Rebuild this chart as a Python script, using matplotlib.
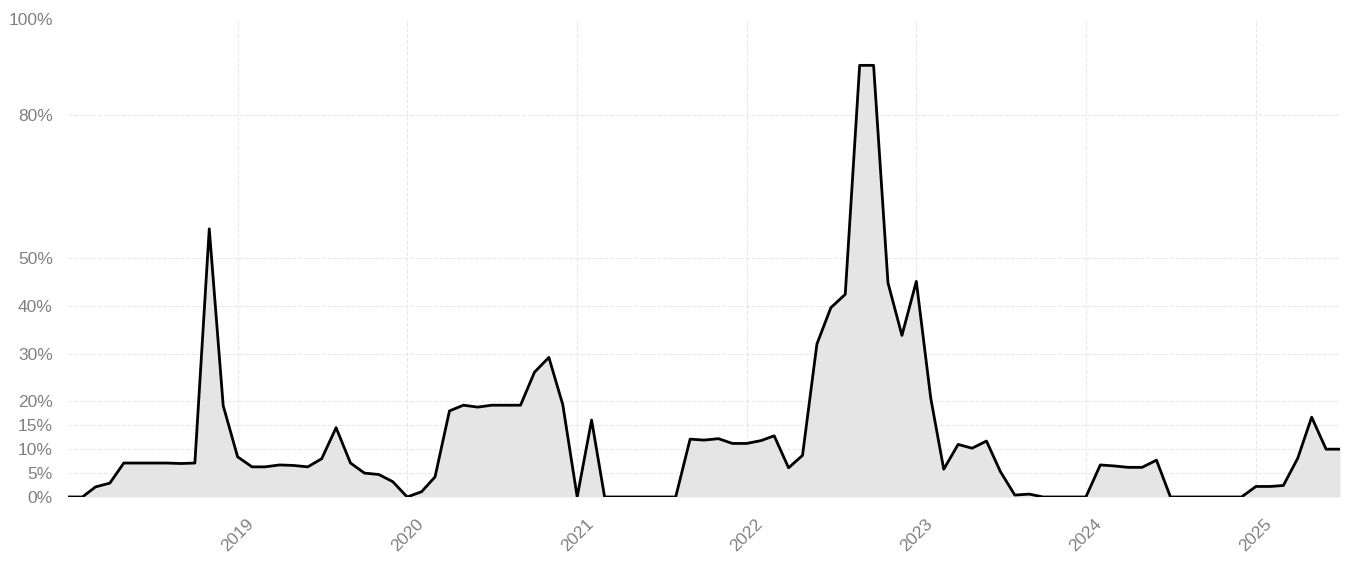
import pandas as pd
import numpy as np
import matplotlib.pyplot as plt
import matplotlib.dates as mdates

plt.rcParams['font.family'] = ['Liberation Sans', 'DejaVu Sans']

# Monthly values (%) from Jan 2018 to Jul 2025
values_2018 = [0, 0, 2.1, 2.9, 7.1, 7.1, 7.1, 7.1, 7.0, 7.1, 56.1, 19.1]
values_2019 = [8.4, 6.3, 6.3, 6.7, 6.6, 6.3, 8.0, 14.5, 7.1, 5.0, 4.7, 3.2]
values_2020 = [0, 1.1, 4.2, 18.0, 19.2, 18.8, 19.2, 19.2, 19.2, 26.1, 29.2, 19.3]
values_2021 = [0, 16.1, 0, 0, 0, 0, 0, 0, 12.1, 11.9, 12.2, 11.2]
values_2022 = [11.2, 11.8, 12.8, 6.1, 8.7, 32.0, 39.6, 42.4, 90.3, 90.3, 44.8, 33.8]
values_2023 = [45.1, 20.7, 5.8, 11.0, 10.2, 11.7, 5.3, 0.4, 0.6, 0, 0, 0]
values_2024 = [0, 6.7, 6.5, 6.2, 6.2, 7.7, 0, 0, 0, 0, 0, 0]
values_2025 = [2.2, 2.2, 2.4, 8.1, 16.7, 10.0, 10.0]

values = (values_2018 + values_2019 + values_2020 + values_2021 + values_2022
          + values_2023 + values_2024 + values_2025)
dates = pd.date_range("2018-01-01", periods=len(values), freq="MS")

y_ticks = [0, 5, 10, 15, 20, 30, 40, 50, 80, 100]
y_tick_labels = [f"{t}%" for t in y_ticks]
year_ticks = pd.date_range("2019-01-01", "2025-01-01", freq="YS")

fig = plt.figure(figsize=(13.5, 5.67), dpi=100)
ax = fig.add_axes([0.0504, 0.1235, 0.9422, 0.843])

# Filled area and line
ax.fill_between(dates, values, 0, color="#e5e5e5", linewidth=0)
ax.plot(dates, values, color="black", linewidth=2.0)
ax.axhline(0, color="#999999", linewidth=0.8, zorder=0)

ax.set_xlim(dates[0], dates[-1])
ax.set_ylim(0, 100)

ax.set_yticks(y_ticks)
ax.set_yticklabels(y_tick_labels)

ax.set_xticks(year_ticks)
ax.xaxis.set_major_formatter(mdates.DateFormatter("%Y"))
plt.setp(ax.get_xticklabels(), rotation=45, ha="center")

ax.tick_params(axis="both", length=0, labelsize=12.5, labelcolor="#808080")
ax.tick_params(axis="y", pad=11)
ax.tick_params(axis="x", pad=14)

ax.grid(True, color="#e8e8e8", linestyle="--", linewidth=0.8)
ax.set_axisbelow(True)
# no gridline along the top edge
ax.get_ygridlines()[-1].set_visible(False)

for spine in ax.spines.values():
    spine.set_visible(False)

plt.savefig("out.png", dpi=100)
